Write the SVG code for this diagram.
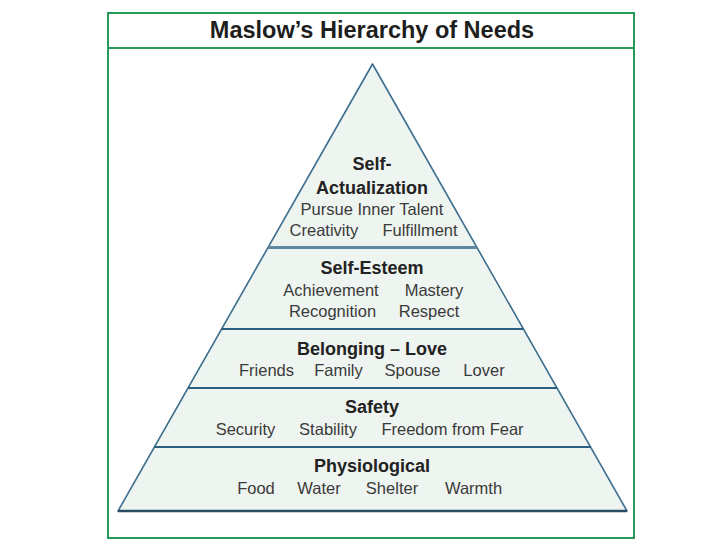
<svg xmlns="http://www.w3.org/2000/svg" width="720" height="540" viewBox="0 0 720 540">
<style>
.frame{fill:none;stroke:#23995a;stroke-width:2}
.title{font-family:"Liberation Sans",Arial,sans-serif;font-weight:bold;font-size:23.5px;fill:#1e1e1e;text-anchor:middle}
.h{font-family:"Liberation Sans",Arial,sans-serif;font-weight:bold;font-size:18px;fill:#222;text-anchor:middle}
.t{font-family:"Liberation Sans",Arial,sans-serif;font-size:16.5px;fill:#3a3a3a;text-anchor:middle}
.band{stroke:#2c5f7e;stroke-width:1.8}
</style>
<rect width="720" height="540" fill="#ffffff"/>
<rect class="frame" x="108" y="13" width="526" height="525"/>
<line class="frame" x1="108" y1="48" x2="634" y2="48"/>
<text class="title" x="372" y="38">Maslow’s Hierarchy of Needs</text>
<polygon points="372.5,64 118,511 627,511" fill="#eef4f0" stroke="#3c6e8e" stroke-width="1.6" stroke-linejoin="round"/>
<g id="connectors">
<line x1="268.3" y1="247.5" x2="476.7" y2="247.5" stroke="#5f87a2" stroke-width="3"/>
<line class="band" x1="221.6" y1="329" x2="523.4" y2="329" stroke="#4a7896" stroke-width="1.5"/>
<line class="band" x1="188" y1="388" x2="557" y2="388"/>
<line class="band" x1="154.4" y1="447" x2="590.6" y2="447" stroke-width="2.2"/>
<line x1="118" y1="511" x2="627" y2="511" stroke="#2b4d63" stroke-width="2.5"/>
</g>
<g id="self-actualization">
<text class="h" x="372" y="170">Self-</text>
<text class="h" x="372" y="194">Actualization</text>
<text class="t" x="372" y="215">Pursue Inner Talent</text>
<text class="t" x="324" y="236">Creativity</text>
<text class="t" x="420" y="236">Fulfillment</text>
</g>
<g id="self-esteem">
<text class="h" x="372" y="274">Self-Esteem</text>
<text class="t" x="331" y="296">Achievement</text>
<text class="t" x="434" y="296">Mastery</text>
<text class="t" x="332.5" y="317">Recognition</text>
<text class="t" x="429" y="317">Respect</text>
</g>
<g id="belonging-love">
<text class="h" x="372" y="355">Belonging – Love</text>
<text class="t" x="266.5" y="376">Friends</text>
<text class="t" x="338.5" y="376">Family</text>
<text class="t" x="412.5" y="376">Spouse</text>
<text class="t" x="484" y="376">Lover</text>
</g>
<g id="safety">
<text class="h" x="372" y="413">Safety</text>
<text class="t" x="245.5" y="435">Security</text>
<text class="t" x="328" y="435">Stability</text>
<text class="t" x="452.5" y="435">Freedom from Fear</text>
</g>
<g id="physiological">
<text class="h" x="372" y="472">Physiological</text>
<text class="t" x="256" y="494">Food</text>
<text class="t" x="319" y="494">Water</text>
<text class="t" x="392" y="494">Shelter</text>
<text class="t" x="473.5" y="494">Warmth</text>
</g>
</svg>
